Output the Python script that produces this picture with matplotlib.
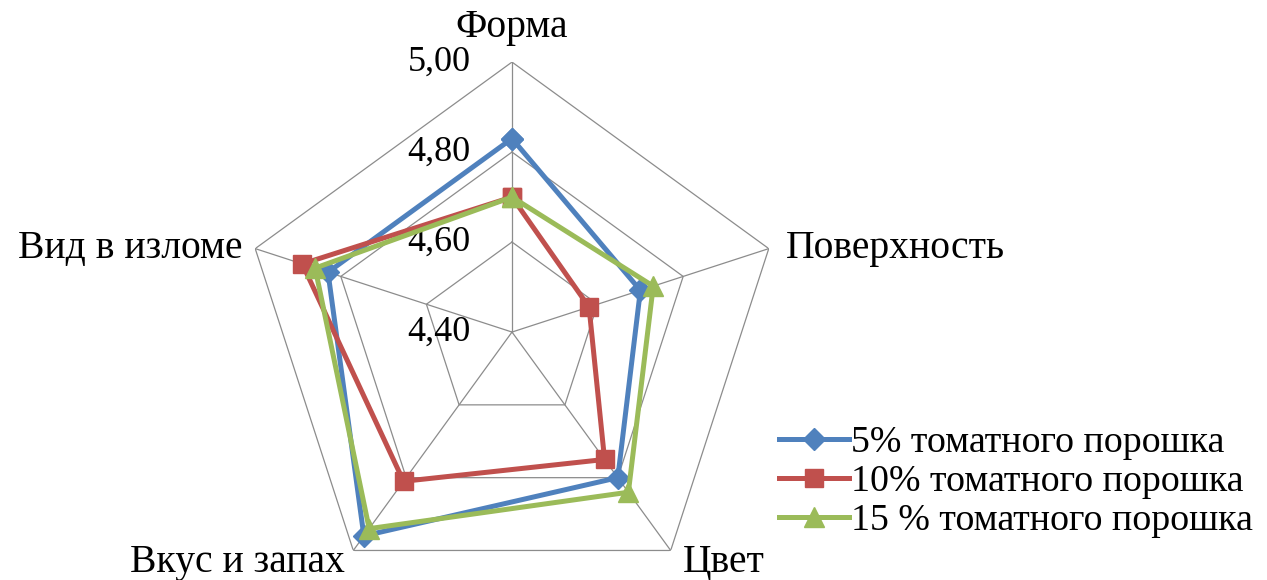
import numpy as np
import matplotlib
matplotlib.use("Agg")
import matplotlib.pyplot as plt

plt.rcParams["font.family"] = ["Liberation Serif", "DejaVu Serif"]

# organoleptic score per attribute, clockwise from the top
categories = ["Форма", "Поверхность", "Цвет", "Вкус и запах", "Вид в изломе"]
series_names = ["5% томатного порошка", "10% томатного порошка", "15 % томатного порошка"]
scores_5 = [4.83, 4.70, 4.80, 4.96, 4.83]
scores_10 = [4.70, 4.58, 4.75, 4.81, 4.89]
scores_15 = [4.70, 4.73, 4.84, 4.94, 4.86]
ring_levels = [4.40, 4.60, 4.80, 5.00]

colors = ["#4F81BD", "#C0504D", "#9BBB59"]
markers = ["D", "s", "^"]
msizes = [11, 13, 14]

# label offsets (points) from each outer vertex and alignment
label_pos = [((0, 25), "center", "center"),
             ((12, 0), "left", "center"),
             ((9, -9), "left", "center"),
             ((-6, -9), "right", "center"),
             ((-9, 0), "right", "center")]

n = len(categories)
angles = np.linspace(0, 2 * np.pi, n, endpoint=False)
closed = np.append(angles, angles[0])

fig = plt.figure(figsize=(12.67, 5.80), dpi=100)
ax = fig.add_axes([0.191, -0.038, 0.4262, 0.931], projection="polar")
ax.set_theta_offset(np.pi / 2)
ax.set_theta_direction(-1)
ax.set_ylim(ring_levels[0], ring_levels[-1])
ax.grid(False)
ax.spines["polar"].set_visible(False)
ax.set_xticks([])
ax.set_yticks([])
ax.patch.set_visible(False)

# pentagon grid and spokes
grid_kw = dict(color="#8C8C8C", lw=0.9, zorder=1)
for lev in ring_levels[1:]:
    ax.plot(closed, [lev] * (n + 1), **grid_kw)
for a in angles:
    ax.plot([a, a], [ring_levels[0], ring_levels[-1]], **grid_kw)

for lev in ring_levels:
    ax.annotate(f"{lev:.2f}".replace(".", ","), xy=(0, lev), xytext=(-30, 0),
                textcoords="offset points", ha="right", va="center",
                fontsize=26, annotation_clip=False)

for a, name, (off, ha, va) in zip(angles, categories, label_pos):
    ax.annotate(name, xy=(a, ring_levels[-1]), xytext=off,
                textcoords="offset points", ha=ha, va=va,
                fontsize=28.5, annotation_clip=False)

for vals, name, c, m, ms in zip([scores_5, scores_10, scores_15], series_names,
                                colors, markers, msizes):
    ax.plot(closed, vals + vals[:1], color=c, lw=3.6, marker=m, ms=ms,
            markeredgecolor=c, label=name, zorder=3, clip_on=False)

fig.legend(loc="center left", bbox_to_anchor=(0.603, 0.169), fontsize=27.3,
           frameon=False, handlelength=1.85, handletextpad=0.05,
           labelspacing=0.12, borderaxespad=0.0)

fig.savefig("out.png", dpi=100)
